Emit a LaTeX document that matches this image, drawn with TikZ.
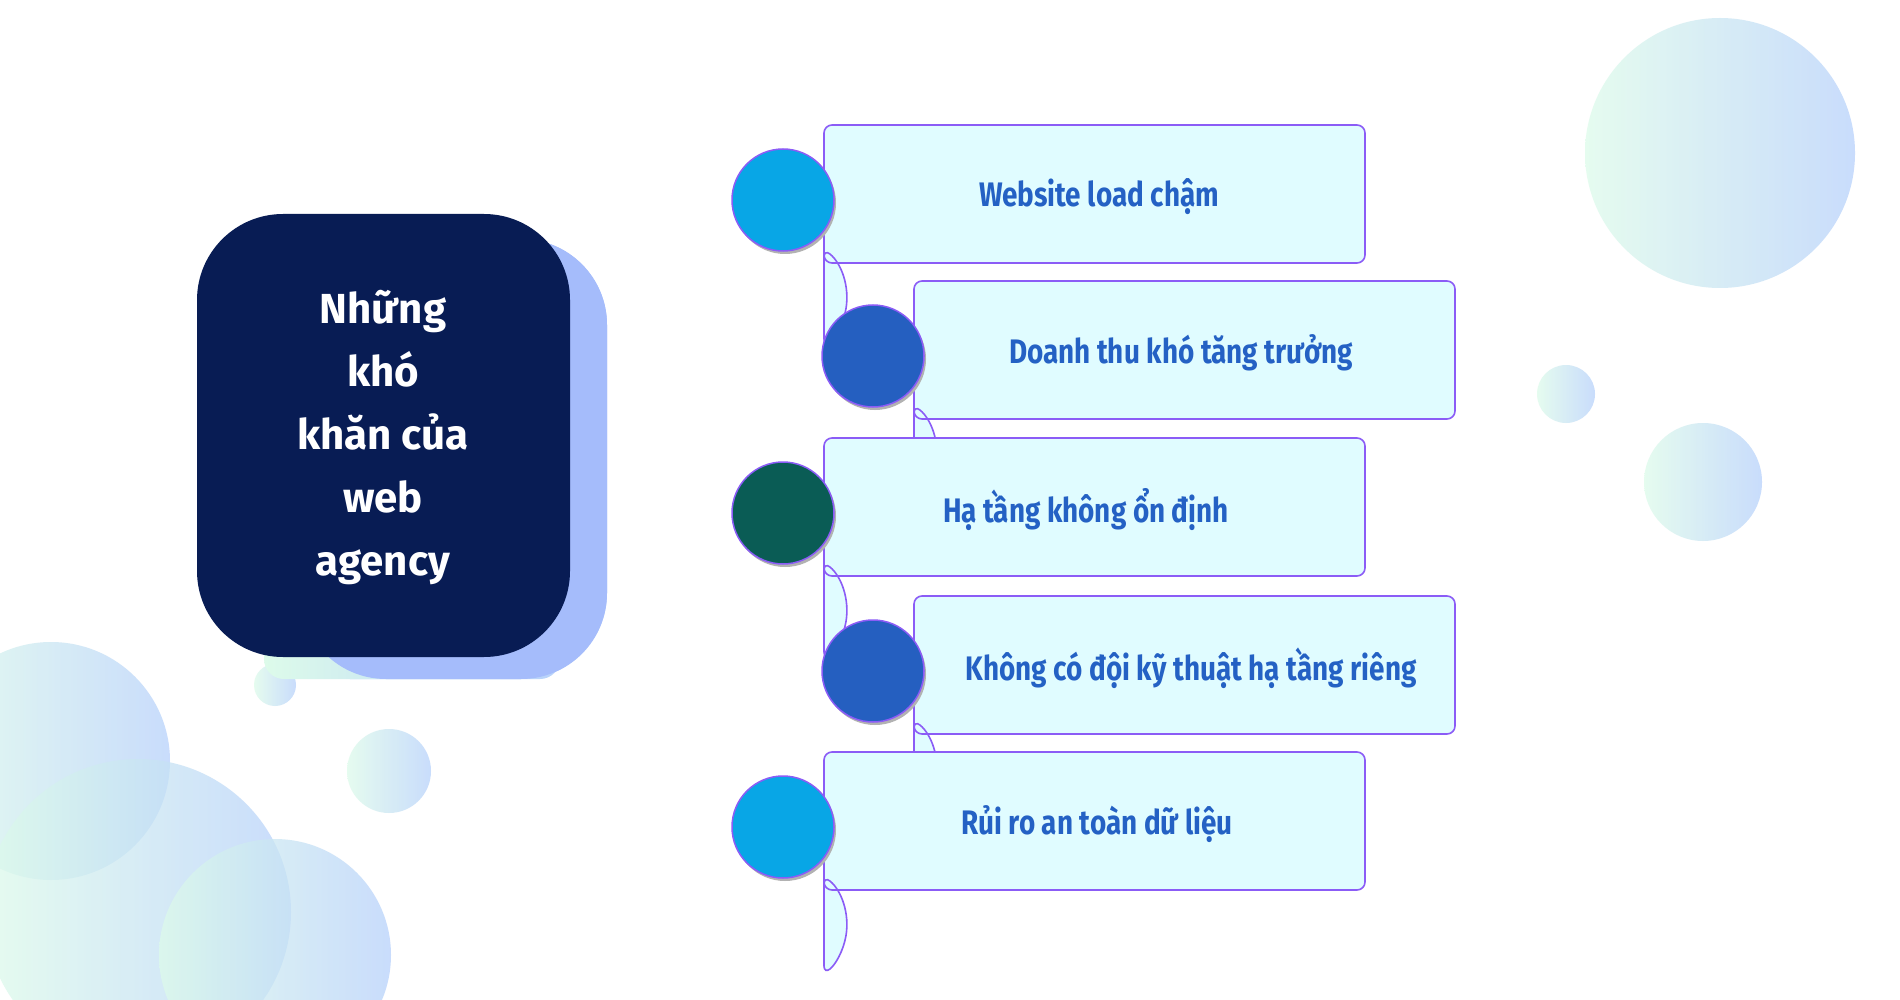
\documentclass[tikz,border=0pt]{standalone}
\usepackage{fontspec}
\setmainfont{PT Sans}
\newfontfamily\itemfont[FakeStretch=0.82]{Fira Sans}
\newfontfamily\titlefont{Fira Sans}
\usetikzlibrary{shadings}
\definecolor{boxfill}{HTML}{E0FCFF}
\definecolor{boxline}{HTML}{8B5CF6}
\definecolor{itemtext}{HTML}{2461C4}
\definecolor{cA}{HTML}{08A6E6}
\definecolor{cB}{HTML}{255FC0}
\definecolor{cC}{HTML}{0A5C55}
\definecolor{navy}{HTML}{081C54}
\definecolor{mint}{HTML}{DDFBEA}
\definecolor{sky}{HTML}{B7D1FB}
\tikzset{
  deco/.style={left color=mint,right color=sky,opacity=0.75,draw=none},
  dot/.style={circle,draw=boxline,line width=1.5pt,minimum size=102pt,inner sep=0pt},
  itemlabel/.style={text=itemtext,font=\itemfont\bfseries\fontsize{34}{40}\selectfont},
}
% #1 cx, #2 cy, #3 colour, #4 text, #5 text x, #6 name
\newcommand{\probitem}[6]{%
  \pgfmathsetmacro{\L}{#1+41}\pgfmathsetmacro{\R}{#1+582}%
  \pgfmathsetmacro{\T}{#2-75}\pgfmathsetmacro{\B}{#2+63}%
  \pgfmathsetmacro{\U}{#2-49}\pgfmathsetmacro{\D}{#2+49}%
  \draw[boxline,fill=boxfill,line width=1.6pt,rounded corners=8pt]
    (\L,\U) -- (\L,\T) -- (\R,\T) -- (\R,\B) -- (\L,\B) -- (\L,\D)
    arc[start angle=50,end angle=-50,radius=64pt] -- cycle;
  \fill[black!30] (#1+2,#2+3) circle (51pt);
  \node[dot,fill=#3] (#6c) at (#1,#2) {};
  \node[itemlabel] (#6t) at (#5,#2-3) {#4};
}
\begin{document}
\begin{tikzpicture}[x=1pt,y=-1pt]
\useasboundingbox (0,0) rectangle (1900,1000);
\fill[white] (0,0) rectangle (1900,1000);
% decorative circles
\shade[deco] (1720,153) circle (135pt);
\shade[deco] (1566,394) circle (29pt);
\shade[deco] (1703,482) circle (59pt);
\shade[deco] (51,761) circle (119pt);
\shade[deco] (138,912) circle (153pt);
\shade[deco] (275,955) circle (116pt);
\shade[deco] (389,771) circle (42pt);
\shade[deco] (275,685) circle (21pt);
% title block
\shade[top color=sky!90!blue,bottom color=sky,rounded corners=86pt] (264,239) rectangle (607,679);
\shade[left color=mint,right color=sky,rounded corners=20pt] (264,600) rectangle (560,679);
\fill[sky!90!blue,rounded corners=86pt] (300,239) rectangle (607,679);
\fill[navy,rounded corners=86pt] (197,214) rectangle (570,657);
\node[text=white,align=center,font=\titlefont\bfseries\fontsize{42}{63}\selectfont] (title) at (383,438)
  {Những\\khó\\khăn của\\web\\agency};
% items
\probitem{783}{200}{cA}{Website load chậm}{1099}{i1}
\probitem{873}{356}{cB}{Doanh thu khó tăng trưởng}{1181}{i2}
\probitem{783}{513}{cC}{Hạ tầng không ổn định}{1086}{i3}
\probitem{873}{671}{cB}{Không có đội kỹ thuật hạ tầng riêng}{1191}{i4}
\probitem{783}{827}{cA}{Rủi ro an toàn dữ liệu}{1097}{i5}
\end{tikzpicture}
\end{document}
